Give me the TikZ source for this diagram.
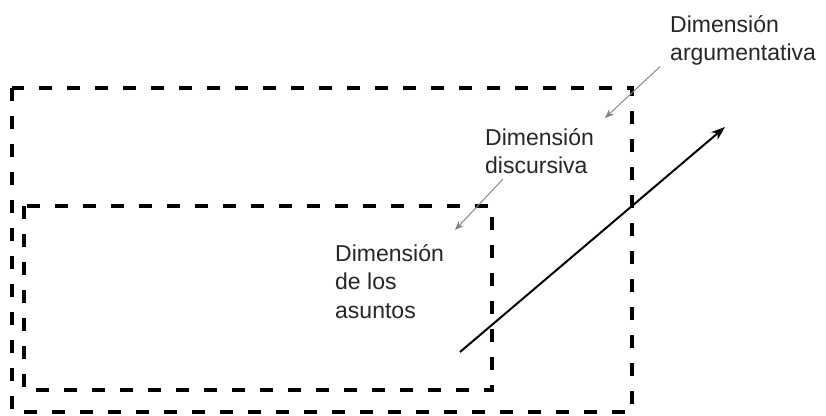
\documentclass[tikz,border=0pt]{standalone}
\usepackage{fontspec}
\setmainfont{Liberation Sans}
\usetikzlibrary{arrows.meta}

\begin{document}
\begin{tikzpicture}[x=1pt,y=-1pt,
    dimbox/.style={line width=3.2pt,dash pattern=on 13pt off 15pt},
    dimtext/.style={anchor=north west,inner sep=0pt,align=left,text=black!85,
        font=\fontsize{23}{28.5}\selectfont},
    pointer/.style={gray,line width=0.9pt,-{Stealth[length=9pt,width=7pt]}}]

\useasboundingbox (0,0) rectangle (826,415);

\draw[dimbox] (12,88) rectangle (632,412);
\draw[dimbox] (24,206) rectangle (492,390);

\node[dimtext] (argum) at (670,15) {Dimensión\\argumentativa};
\node[dimtext] (discur) at (485,128) {Dimensión\\discursiva};
\node[dimtext] (asuntos) at (335,244) {Dimensión\\de los\\asuntos};

\coordinate (argtip) at (605,118);
\coordinate (disctip) at (455,230);
\draw[pointer] ([xshift=-10pt,yshift=-1pt]argum.south west) -- (argtip);
\draw[pointer] ([xshift=18pt,yshift=-5pt]discur.south west) -- (disctip);

\coordinate (start) at (460,352);
\coordinate (end) at (725,127);
\draw[line width=2pt,-{Stealth[length=14pt,width=10pt]}] (start) -- (end);

\end{tikzpicture}
\end{document}
